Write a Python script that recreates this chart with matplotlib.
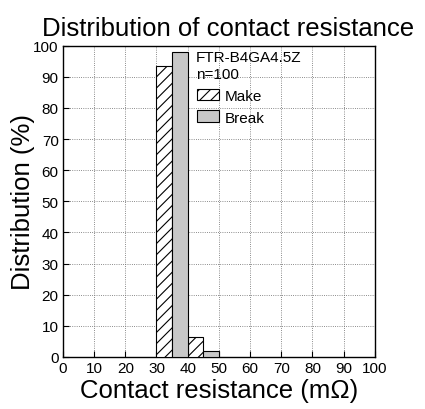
import matplotlib.pyplot as plt
from matplotlib.patches import Patch

plt.rcParams['font.family'] = ['Liberation Sans', 'DejaVu Sans']
plt.rcParams['hatch.linewidth'] = 0.8

make_left = [30, 40]
make_vals = [93.5, 6.5]
break_left = [35, 45]
break_vals = [98, 2]
bin_width = 5
ticks = list(range(0, 101, 10))

fig = plt.figure(figsize=(4.25, 4.1), dpi=100)
ax = fig.add_axes([0.148, 0.127, 0.734, 0.759])

ax.bar(make_left, make_vals, width=bin_width, align='edge', color='white',
       edgecolor='black', hatch='///', linewidth=0.8, zorder=3)
ax.bar(break_left, break_vals, width=bin_width, align='edge', color='#c8c8c8',
       edgecolor='black', linewidth=0.8, zorder=3)

ax.set_xlim(0, 100)
ax.set_ylim(0, 100)
ax.set_xticks(ticks)
ax.set_yticks(ticks)
ax.tick_params(direction='in', labelsize=11, length=4, width=0.8, pad=3)
ax.grid(True, linestyle=':', color='#666666', linewidth=0.6)
ax.set_axisbelow(True)
for s in ax.spines.values():
    s.set_linewidth(1)

ax.set_xlabel('Contact resistance (mΩ)', fontsize=18.5, labelpad=2)
ax.set_ylabel('Distribution (%)', fontsize=18.5, labelpad=-1)
ax.set_title('Distribution of contact resistance', fontsize=18.5, pad=8, x=0.53)

ax.text(0.426, 0.985, 'FTR-B4GA4.5Z\nn=100', transform=ax.transAxes,
        fontsize=11, va='top', ha='left', linespacing=1.25)

handles = [Patch(facecolor='white', edgecolor='black', hatch='///', linewidth=0.8),
           Patch(facecolor='#c8c8c8', edgecolor='black', linewidth=0.8)]
ax.legend(handles, ['Make', 'Break'], loc='upper left',
          bbox_to_anchor=(0.429, 0.862), frameon=False, fontsize=11,
          handlelength=1.45, handleheight=0.8, handletextpad=0.4,
          labelspacing=0.5, borderaxespad=0, borderpad=0)

fig.savefig('out.png', dpi=100)
